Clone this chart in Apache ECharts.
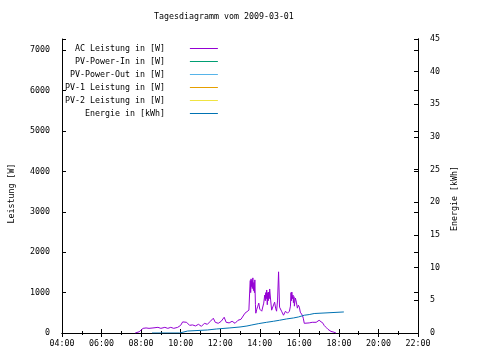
<!DOCTYPE html>
<html>
<head>
<meta charset="utf-8">
<script src="https://cdn.jsdelivr.net/npm/echarts@6/dist/echarts.min.js"></script>
<style>html,body{margin:0;padding:0;background:#fff}#c{width:480px;height:360px}</style>
</head>
<body>
<div id="c"></div>
<script>
// Time in hours of day
var acTime  = [7.70,7.90,8.00,8.10,8.25,8.40,8.60,8.85,9.00,9.20,9.35,9.50,9.65,9.85,10.00,10.10,10.20,10.30,10.45,10.60,10.75,10.90,11.05,11.20,11.35,11.50,11.60,11.65,11.75,11.90,12.05,12.20,12.30,12.45,12.60,12.75,12.90,13.05,13.15,13.25,13.35,13.45,13.50,13.52,13.54,13.56,13.58,13.60,13.62,13.65,13.68,13.70,13.73,13.75,13.78,13.80,13.85,13.90,13.95,14.00,14.10,14.20,14.25,14.28,14.30,14.33,14.35,14.38,14.40,14.43,14.45,14.48,14.50,14.55,14.60,14.70,14.75,14.80,14.85,14.90,14.95,15.00,15.10,15.20,15.30,15.40,15.50,15.55,15.58,15.60,15.62,15.65,15.68,15.70,15.73,15.75,15.80,15.85,15.90,15.95,16.00,16.05,16.15,16.20,16.25,16.35,16.50,16.65,16.75,16.85,17.00,17.10,17.20,17.25,17.35,17.45,17.60,17.75,17.85];
var acPower = [0,30,60,115,125,115,125,140,115,140,115,140,115,140,190,275,240,265,190,200,175,215,165,240,215,290,250,365,265,240,290,390,265,250,290,240,315,340,315,490,465,565,1140,1300,1000,1340,1150,1300,1100,1365,1050,1250,1000,1315,700,490,590,665,740,590,540,740,940,800,1000,850,1065,700,1000,800,1015,850,1090,815,565,540,765,615,540,815,1515,640,540,440,540,490,540,665,1000,800,1015,850,940,750,900,665,865,765,615,690,640,515,440,365,240,240,250,265,290,265,315,290,240,190,140,90,40,20,0];
var enTime  = [8.55,9.95,10.35,11.35,11.80,12.45,13.00,13.35,13.60,13.95,14.35,14.70,15.00,15.35,15.70,15.95,16.25,16.50,16.75,18.25];
var enKwh   = [0,0.3,0.46,0.61,0.77,0.92,1.07,1.23,1.44,1.64,1.80,1.95,2.15,2.30,2.45,2.72,2.82,2.98,3.22,3.22];
var seriesNames = ['AC Leistung in [W]','PV-Power-In in [W]','PV-Power-Out in [W]','PV-1 Leistung in [W]','PV-2 Leistung in [W]','Energie in [kWh]'];
var xTicks = [4,6,8,10,12,14,16,18,20,22];

var FONT = 'DejaVu Sans Mono';
var FS = 8.3;
function pad(s){ while(s.length<20) s=' '+s; return s+'    '; }
function hh(v){ return (v<10?'0':'')+v+':00'; }

var acData = acTime.map(function(t,i){return [t,acPower[i]];});
var enData = enTime.map(function(t,i){return [t,enKwh[i]];});

var chart = echarts.init(document.getElementById('c'));
var tickCommon = {show:true, inside:true, length:4, lineStyle:{color:'#000',width:1}};
var lineCommon = {show:true, lineStyle:{color:'#000',width:1}};
chart.setOption({
  animation:false,
  backgroundColor:'#fff',
  title:{text:'Tagesdiagramm vom 2009-03-01', left:154, top:13, padding:0,
    textStyle:{fontFamily:FONT,fontSize:FS,fontWeight:'normal',color:'#000'}},
  legend:{
    orient:'vertical', left:65, top:43.5, padding:0, align:'right',
    itemWidth:28, itemHeight:10, itemGap:3,
    data:seriesNames,
    itemStyle:{opacity:0},
    lineStyle:{width:1},
    formatter:function(n){return pad(n);},
    textStyle:{fontFamily:FONT,fontSize:FS,color:'#000',lineHeight:10}
  },
  grid:{left:58,right:62,top:39,bottom:27,containLabel:false},
  xAxis:[{
    type:'value', position:'bottom', min:xTicks[0], max:xTicks[xTicks.length-1], interval:2,
    axisLine:lineCommon, axisTick:tickCommon,
    minorTick:{show:true,splitNumber:2,length:2,lineStyle:{color:'#000'}},
    splitLine:{show:false},
    axisLabel:{fontFamily:FONT,fontSize:FS,color:'#000',margin:7,formatter:hh}
  },{
    type:'value', position:'top', min:xTicks[0], max:xTicks[xTicks.length-1], interval:2,
    axisLine:lineCommon, axisTick:tickCommon,
    minorTick:{show:true,splitNumber:2,length:2,lineStyle:{color:'#000'}},
    splitLine:{show:false}, axisLabel:{show:false}
  }],
  yAxis:[{
    type:'value', position:'left', min:0, max:7280, interval:1000,
    name:'Leistung [W]', nameLocation:'middle', nameGap:46, nameRotate:90,
    nameTextStyle:{fontFamily:FONT,fontSize:FS,color:'#000',padding:[0,15,0,0]},
    axisLine:lineCommon, axisTick:tickCommon, splitLine:{show:false},
    axisLabel:{fontFamily:FONT,fontSize:FS,color:'#000',margin:12,
      formatter:function(v){return v%1000===0?String(v):'';}}
  },{
    type:'value', position:'right', min:0, max:45, interval:5,
    name:'Energie [kWh]', nameLocation:'middle', nameGap:31, nameRotate:90,
    nameTextStyle:{fontFamily:FONT,fontSize:FS,color:'#000',padding:[0,25,0,0]},
    axisLine:lineCommon, axisTick:tickCommon, splitLine:{show:false},
    axisLabel:{fontFamily:FONT,fontSize:FS,color:'#000',margin:12}
  },{
    type:'value', position:'right', min:0, max:7280, interval:1000,
    axisLine:lineCommon, axisTick:tickCommon, splitLine:{show:false},
    axisLabel:{show:false}
  }],
  series:[
    {name:seriesNames[0], type:'line', xAxisIndex:0, yAxisIndex:0, symbol:'none', color:'#9400d3', lineStyle:{width:1}, data:acData},
    {name:seriesNames[1], type:'line', symbol:'none', color:'#009e73', lineStyle:{width:1}, data:[]},
    {name:seriesNames[2], type:'line', symbol:'none', color:'#56b4e9', lineStyle:{width:1}, data:[]},
    {name:seriesNames[3], type:'line', symbol:'none', color:'#e69f00', lineStyle:{width:1}, data:[]},
    {name:seriesNames[4], type:'line', symbol:'none', color:'#f0e442', lineStyle:{width:1}, data:[]},
    {name:seriesNames[5], type:'line', xAxisIndex:0, yAxisIndex:1, symbol:'none', step:'end', color:'#0072b2', lineStyle:{width:1}, data:enData}
  ]
});
</script>
</body>
</html>
